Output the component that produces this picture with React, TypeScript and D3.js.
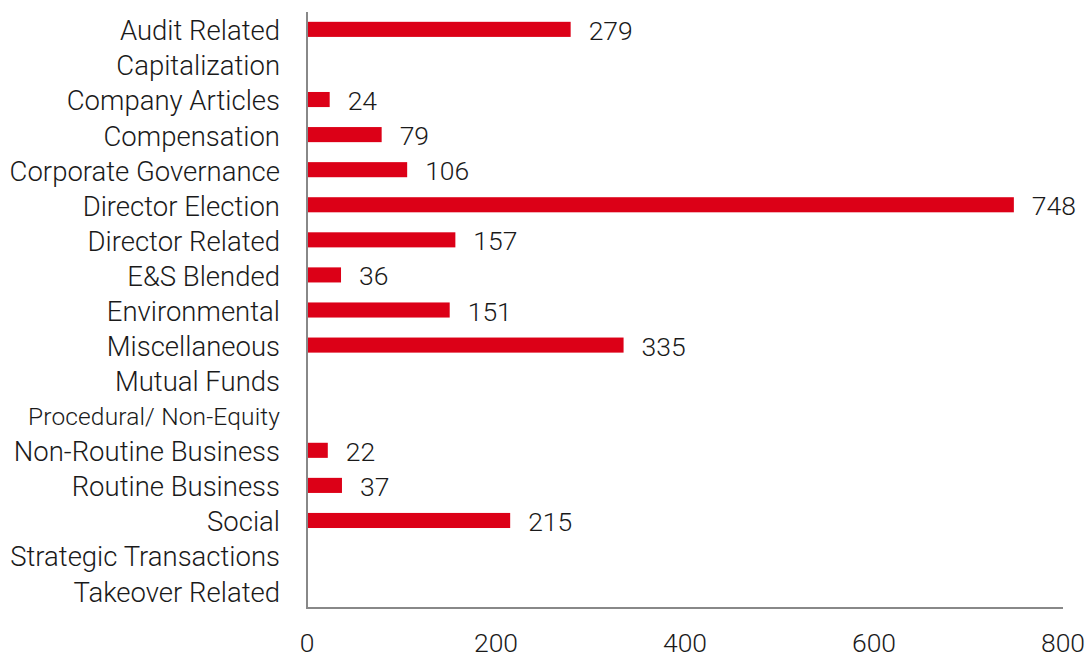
import { useEffect, useRef } from "react";
import * as d3 from "d3";

const categories = [
  "Audit Related",
  "Capitalization",
  "Company Articles",
  "Compensation",
  "Corporate Governance",
  "Director Election",
  "Director Related",
  "E&S Blended",
  "Environmental",
  "Miscellaneous",
  "Mutual Funds",
  "Procedural/ Non-Equity",
  "Non-Routine Business",
  "Routine Business",
  "Social",
  "Strategic Transactions",
  "Takeover Related",
];
const values: (number | null)[] = [279, null, 24, 79, 106, 748, 157, 36, 151, 335, null, null, 22, 37, 215, null, null];
const xTicks = [0, 200, 400, 600, 800];

const smallLabels = ["Procedural/ Non-Equity"];

export default function App() {
  const svgRef = useRef<SVGSVGElement>(null);

  useEffect(() => {
    const width = 1090;
    const height = 658;
    const margin = { top: 12, right: 27, bottom: 50, left: 307 };

    const svg = d3.select(svgRef.current).attr("width", width).attr("height", height);
    svg.selectAll("*").remove();

    const x = d3.scaleLinear().domain([0, 800]).range([margin.left, width - margin.right]);
    const y = d3
      .scaleBand<string>()
      .domain(categories)
      .range([margin.top, height - margin.bottom])
      .paddingInner(0.57)
      .paddingOuter(0.28);

    const font = "Roboto, 'Helvetica Neue', Arial, sans-serif";
    const data = categories.map((c, i) => ({ c, v: values[i] }));

    // bars
    svg
      .append("g")
      .selectAll("rect")
      .data(data.filter((d) => d.v !== null))
      .join("rect")
      .attr("x", x(0) + 1)
      .attr("y", (d) => y(d.c)!)
      .attr("width", (d) => x(d.v as number) - x(0) - 1)
      .attr("height", y.bandwidth())
      .attr("fill", "#dc0017");

    // value labels
    svg
      .append("g")
      .selectAll("text")
      .data(data.filter((d) => d.v !== null))
      .join("text")
      .attr("x", (d) => x(d.v as number) + 18)
      .attr("y", (d) => y(d.c)! + y.bandwidth() / 2 + 1)
      .attr("dy", "0.36em")
      .attr("font-family", font)
      .attr("font-weight", 300)
      .attr("font-size", 26.5)
      .attr("fill", "#1a1a1a")
      .text((d) => String(d.v));

    // category labels
    svg
      .append("g")
      .selectAll("text")
      .data(categories)
      .join("text")
      .attr("x", margin.left - 27)
      .attr("y", (d) => y(d)! + y.bandwidth() / 2 + 1)
      .attr("dy", "0.36em")
      .attr("text-anchor", "end")
      .attr("font-family", font)
      .attr("font-weight", 300)
      .attr("font-size", (d) => (smallLabels.includes(d) ? 24.5 : 27.5))
      .attr("textLength", (d) => (smallLabels.includes(d) ? 252 : null))
      .attr("fill", "#1a1a1a")
      .text((d) => d);

    // axes lines
    const axisY = height - margin.bottom;
    svg
      .append("line")
      .attr("x1", x(0))
      .attr("x2", x(0))
      .attr("y1", margin.top)
      .attr("y2", axisY)
      .attr("stroke", "#888")
      .attr("stroke-width", 2);
    svg
      .append("line")
      .attr("x1", x(0) - 1)
      .attr("x2", x(800))
      .attr("y1", axisY)
      .attr("y2", axisY)
      .attr("stroke", "#888")
      .attr("stroke-width", 2);

    // x tick labels
    svg
      .append("g")
      .selectAll("text")
      .data(xTicks)
      .join("text")
      .attr("x", (d) => x(d))
      .attr("y", axisY + 44)
      .attr("text-anchor", "middle")
      .attr("font-family", font)
      .attr("font-weight", 300)
      .attr("font-size", 26.5)
      .attr("fill", "#1a1a1a")
      .text((d) => String(d));
  }, []);

  return (
    <div style={{ position: "absolute", left: 0, top: 0, background: "#fff" }}>
      <svg ref={svgRef} style={{ display: "block" }}></svg>
    </div>
  );
}
